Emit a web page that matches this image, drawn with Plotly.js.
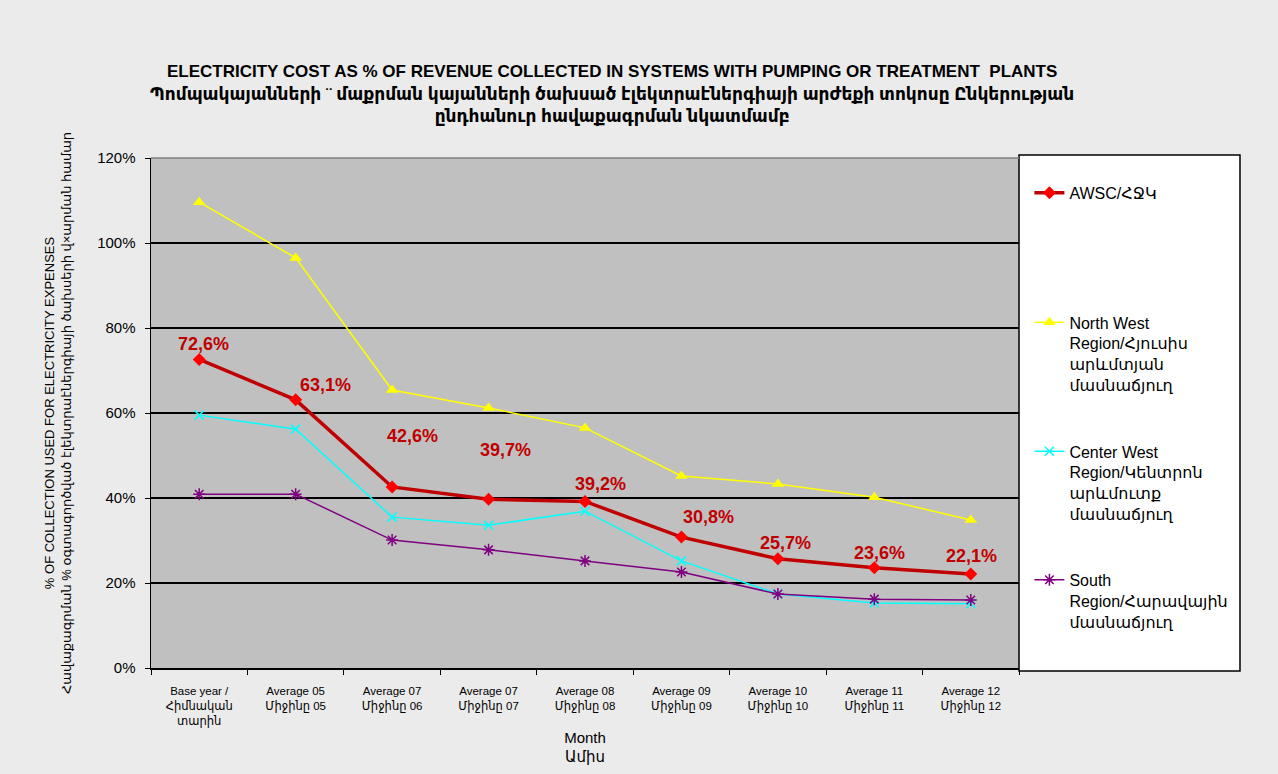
<!DOCTYPE html>
<html>
<head>
<meta charset="utf-8">
<script src="https://cdn.plot.ly/plotly-3.0.1.min.js"></script>
<style>
html,body{margin:0;padding:0;background:#ebebeb;}
#chart{width:1278px;height:774px;}
</style>
</head>
<body>
<div id="chart"></div>
<script>
const categories = [
  "Base year /<br>Հիմնական<br>տարին",
  "Average 05<br>Միջինը 05",
  "Average 07<br>Միջինը 06",
  "Average 07<br>Միջինը 07",
  "Average 08<br>Միջինը 08",
  "Average 09<br>Միջինը 09",
  "Average 10<br>Միջինը 10",
  "Average 11<br>Միջինը 11",
  "Average 12<br>Միջինը 12"
];
const awsc       = [72.6, 63.1, 42.6, 39.7, 39.2, 30.8, 25.7, 23.6, 22.1];
const northWest  = [109.6, 96.5, 65.4, 61.2, 56.5, 45.2, 43.3, 40.2, 34.8];
const centerWest = [59.5, 56.2, 35.5, 33.6, 36.9, 25.2, 17.4, 15.3, 15.1];
const south      = [40.9, 40.9, 30.1, 27.8, 25.2, 22.6, 17.4, 16.2, 16.0];
const seriesNames = [
  "AWSC/ՀՋԿ",
  "North West<br>Region/Հյուսիս<br>արևմտյան<br>մասնաճյուղ",
  "Center West<br>Region/Կենտրոն<br>արևմուտք<br>մասնաճյուղ",
  "South<br>Region/Հարավային<br>մասնաճյուղ"
];
const yTickVals = [0, 20, 40, 60, 80, 100, 120];
const yTickText = yTickVals.map(v => v + '%');

// label offsets in pixels (style only)
const labelDx = [4, 30, 20, 17, 15, 27, 8, 5, 1];
const labelDy = [15, 15, 51, 49, 17, 20, 16, 15, 18];

const FONT = 'Arial, "Liberation Sans", "DejaVu Sans", sans-serif';

const traces = [
  {
    x: categories, y: awsc, name: seriesNames[0], type: 'scatter', mode: 'lines+markers',
    line: {color: '#c00000', width: 3.5},
    marker: {symbol: 'diamond', size: 10, color: '#ff0000'},
    legend: 'legend'
  },
  {
    x: categories, y: northWest, name: seriesNames[1], type: 'scatter', mode: 'lines+markers',
    line: {color: '#ffff00', width: 1.5},
    marker: {symbol: 'triangle-up', size: 11, color: '#ffff00'},
    legend: 'legend2'
  },
  {
    x: categories, y: centerWest, name: seriesNames[2], type: 'scatter', mode: 'lines+markers',
    line: {color: '#00ffff', width: 1.5},
    marker: {symbol: 'x-thin', size: 9, color: '#00ffff', line: {color: '#00ffff', width: 1.5}},
    legend: 'legend3'
  },
  {
    x: categories, y: south, name: seriesNames[3], type: 'scatter', mode: 'lines+markers',
    line: {color: '#800080', width: 1.5},
    marker: {symbol: 'asterisk', size: 10, color: '#800080', line: {color: '#800080', width: 1.5}},
    legend: 'legend4'
  }
];

const annotations = awsc.map((v, i) => ({
  x: categories[i], y: v, xref: 'x', yref: 'y',
  text: v.toFixed(1).replace('.', ',') + '%',
  showarrow: false,
  xshift: labelDx[i], yshift: labelDy[i],
  font: {family: FONT, size: 18, color: '#c00000', weight: 'bold'}
}));

const legendBase = {
  bgcolor: 'rgba(0,0,0,0)', borderwidth: 0,
  font: {family: FONT, size: 16, color: '#000000'},
  xanchor: 'left', yanchor: 'top', valign: 'top', x: 1.012
};

const layout = {
  width: 1278, height: 774, autosize: false,
  margin: {l: 151, r: 259, t: 158, b: 106},
  paper_bgcolor: '#ebebeb',
  plot_bgcolor: '#c0c0c0',
  font: {family: FONT, color: '#000000'},
  title: {
    text: 'ELECTRICITY COST AS % OF REVENUE COLLECTED IN SYSTEMS WITH PUMPING OR TREATMENT  PLANTS<br>Պոմպակայանների ¨ մաքրման կայանների ծախսած էլեկտրաէներգիայի արժեքի տոկոսը Ընկերության<br>ընդհանուր հավաքագրման նկատմամբ',
    font: {family: FONT, size: 17, color: '#000000', weight: 'bold'},
    x: 0.479, xanchor: 'center', y: 0.9, yanchor: 'top'
  },
  xaxis: {
    type: 'category',
    range: [-0.5, 8.5],
    showline: true, linecolor: '#000000', linewidth: 1.5,
    showgrid: false, zeroline: false,
    ticks: 'outside', ticklen: 5, tickcolor: '#000000', tickson: 'boundaries',
    ticklabelstandoff: 12,
    tickfont: {family: FONT, size: 11.5, color: '#000000'},
    title: {text: 'Month<br>Ամիս', font: {family: FONT, size: 15, color: '#000000'}, standoff: 5},
    automargin: false
  },
  yaxis: {
    range: [0, 120],
    tickmode: 'array',
    tickvals: yTickVals,
    ticktext: yTickText,
    showline: true, linecolor: '#000000', linewidth: 1.5,
    showgrid: true, gridcolor: '#000000', gridwidth: 1.3,
    zeroline: false,
    ticks: 'outside', ticklen: 5, tickcolor: '#000000',
    ticklabelstandoff: 6,
    tickfont: {family: FONT, size: 15, color: '#000000'},
    title: {text: '% OF COLLECTION USED FOR ELECTRICITY EXPENSES<br>Հավաքագրման % օգտագործված էլեկտրաէներգիայի ծախսերի վ×արման համար', font: {family: FONT, size: 13, color: '#000000'}, standoff: 22},
    automargin: false
  },
  showlegend: true,
  legend:  Object.assign({}, legendBase, {y: 0.965}),
  legend2: Object.assign({}, legendBase, {y: 0.711}),
  legend3: Object.assign({}, legendBase, {y: 0.458}),
  legend4: Object.assign({}, legendBase, {y: 0.206}),
  shapes: [
    {type: 'rect', xref: 'paper', yref: 'paper', x0: 1.0, x1: 1.2546, y0: -0.006, y1: 1.006,
     fillcolor: '#ffffff', line: {color: '#000000', width: 1.5}, layer: 'below'},
    {type: 'line', xref: 'paper', yref: 'paper', x0: 0, x1: 1, y0: 1, y1: 1,
     line: {color: '#808080', width: 1.5}, layer: 'above'}
  ],
  annotations: annotations
};

Plotly.newPlot('chart', traces, layout, {displayModeBar: false, staticPlot: true});
</script>
</body>
</html>
